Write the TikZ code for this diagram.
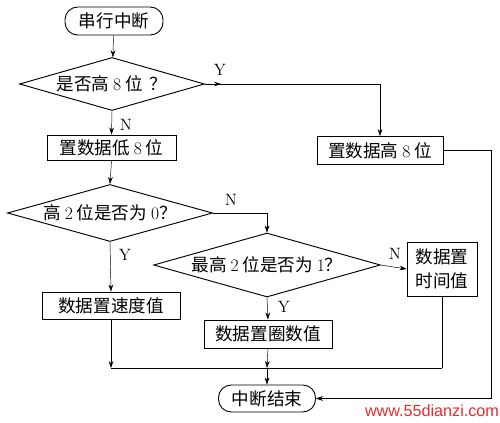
\documentclass[tikz,border=0pt]{standalone}
\usepackage{fontspec}
\newfontfamily\cjk{Noto Sans CJK SC}
\newfontfamily\wmfont{Liberation Sans}
\usepackage{tikz}
\usetikzlibrary{arrows.meta,shapes.geometric}
\definecolor{wmred}{RGB}{225,45,45}

\tikzset{
  zh/.style={font=\cjk\fontsize{15}{20}\selectfont},
  box/.style={draw, thick, rectangle, inner sep=0pt, zh},
  term/.style={box, rounded corners=3.8mm},
  decide/.style={draw, thick, diamond, aspect=3.5, inner sep=0pt, zh},
  conn/.style={-{Stealth[length=2.1mm,width=1.4mm]}},
  yn/.style={font=\fontsize{14}{16}\selectfont}
}

\begin{document}
\begin{tikzpicture}[x=0.03cm, y=-0.03cm]
  \useasboundingbox (0,0) rectangle (500,423);
  % Start
  \node[term, minimum width=2.94cm, minimum height=0.84cm] (start) at (114,21) {串行中断};
  % Decisions
  \node[decide, minimum width=5.55cm, minimum height=1.59cm] (hi8) at (112,84) {是否高 {\rmfamily 8} 位\hspace{0.4em}？};
  \node[decide, minimum width=6.15cm, minimum height=1.71cm] (zero) at (110,213) {高 {\rmfamily 2} 位是否为 {\rmfamily 0}？};
  \node[decide, minimum width=6.8cm, minimum height=1.92cm] (one) at (267,265) {最高 {\rmfamily 2} 位是否为 {\rmfamily 1}？};
  % Boxes
  \node[box, minimum width=3.87cm, minimum height=0.75cm] (lo) at (111.5,147.5) {置数据低 {\rmfamily 8} 位};
  \node[box, minimum width=3.78cm, minimum height=0.84cm] (hi) at (380,150.5) {置数据高 {\rmfamily 8} 位};
  \node[box, minimum width=4.14cm, minimum height=0.81cm] (speed) at (111,305.5) {数据置速度值};
  \node[box, minimum width=3.84cm, minimum height=0.84cm] (laps) at (268,334) {数据置圈数值};
  \node[box, minimum width=2.1cm, minimum height=1.62cm, align=center] (time) at (442,269) {数据置\\时间值};
  % End
  \node[term, minimum width=2.91cm, minimum height=0.81cm] (stop) at (267,398.5) {中断结束};
  % Junctions
  \coordinate (j1) at (111,368);
  \coordinate (j2) at (267,368);
  \coordinate (j3) at (442,368);
  % Flow
  \draw[conn] (start) -- (hi8);
  \draw[conn] (hi8.east) -- ++(16,0);
  \draw[conn] (hi8.east) -| (hi.north);
  \node[yn] (y1) at (220,70) {Y};
  \draw[conn] (hi8.south) -- (lo.north);
  \node[yn] (n1) at (126,125) {N};
  \draw[conn] (lo.south) -- (zero.north);
  \draw[conn] (zero.east) -| (one.north);
  \node[yn] (n2) at (231,200) {N};
  \draw[conn] (zero.south) -- (speed.north);
  \node[yn] (y2) at (125,255) {Y};
  \draw[conn] (one.east) -- (time.west);
  \node[yn] (n3) at (395,254) {N};
  \draw[conn] (one.south) -- (laps.north);
  \node[yn] (y3) at (284,307) {Y};
  \draw[conn] (speed.south) -- (j1);
  \draw (j1) -- (j3);
  \draw (time.south) -- (j3);
  \draw[conn] (laps.south) -- (j2);
  \draw[conn] (j2) -- (stop.north);
  \draw[conn] (hi.east) -- ++(48,0) |- (stop.east);
  % Watermark
  \node[text=wmred, font=\wmfont\fontsize{13.8}{15}\selectfont, inner sep=0pt] (wm) at (432,411) {www.55dianzi.com};
\end{tikzpicture}
\end{document}
